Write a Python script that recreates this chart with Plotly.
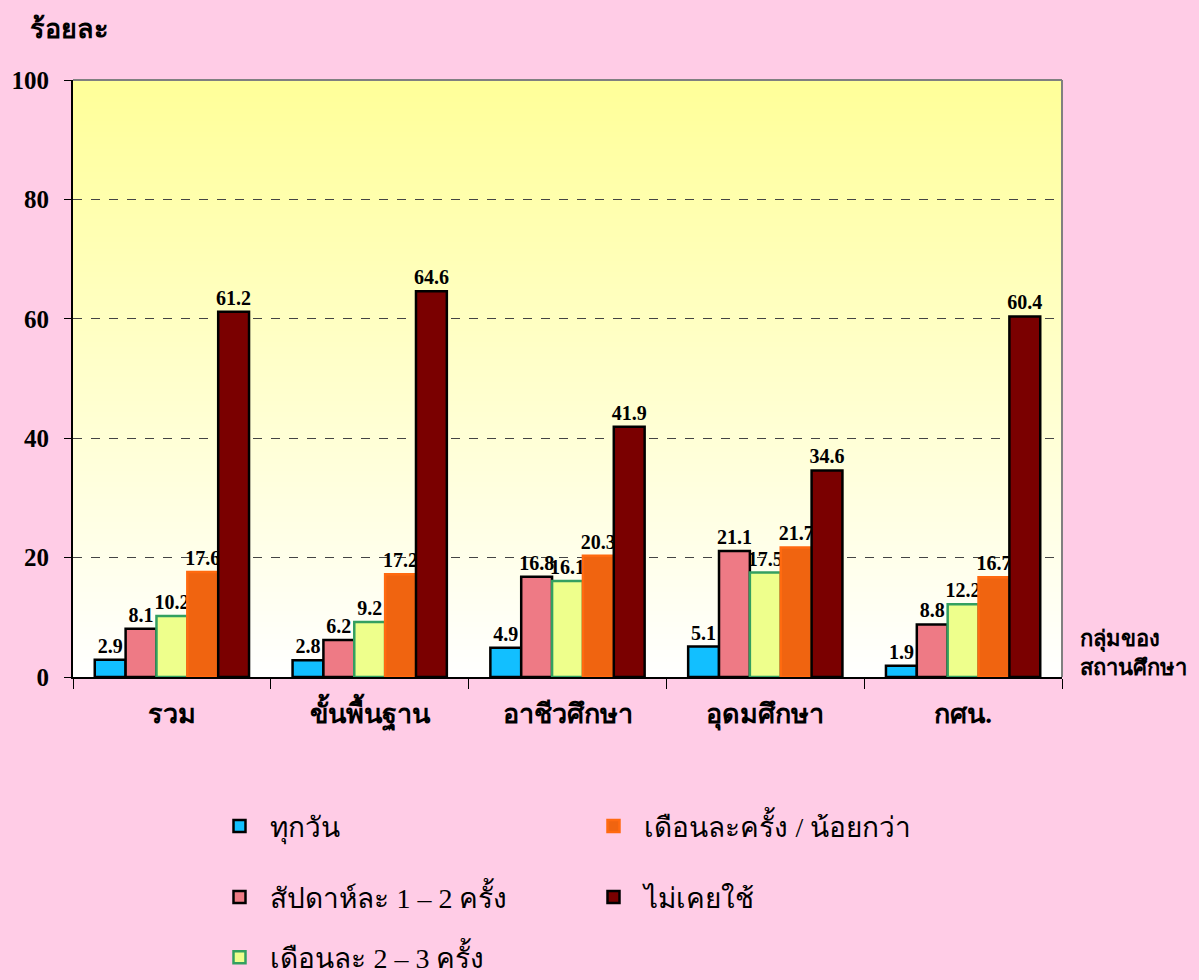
import base64, struct, zlib
import plotly.graph_objects as go

categories = ["รวม", "ขั้นพื้นฐาน", "อาชีวศึกษา", "อุดมศึกษา", "กศน."]
series_names = ["ทุกวัน", "สัปดาห์ละ 1 – 2 ครั้ง", "เดือนละ 2 – 3 ครั้ง",
                "เดือนละครั้ง / น้อยกว่า", "ไม่เคยใช้"]
daily = [2.9, 2.8, 4.9, 5.1, 1.9]
weekly = [8.1, 6.2, 16.8, 21.1, 8.8]
monthly_2_3 = [10.2, 9.2, 16.1, 17.5, 12.2]
monthly_once = [17.6, 17.2, 20.3, 21.7, 16.7]
never = [61.2, 64.6, 41.9, 34.6, 60.4]
y_ticks = [0, 20, 40, 60, 80, 100]

values = [daily, weekly, monthly_2_3, monthly_once, never]
fills = ["#12BFFF", "#EE7A85", "#EEFF8C", "#F06410", "#7A0000"]
edges = ["#000000", "#000000", "#33A060", "#FF6A10", "#000000"]
legend_ids = ["legend", "legend2", "legend3", "legend", "legend2"]
ranks = [1, 1, 1, 2, 2]


def gradient_png(top, bottom, h=256):
    raw = b""
    for i in range(h):
        t = i / (h - 1)
        px = bytes(int(round(top[k] + (bottom[k] - top[k]) * t)) for k in range(3))
        raw += b"\x00" + px
    def chunk(tag, data):
        c = tag + data
        return struct.pack(">I", len(data)) + c + struct.pack(">I", zlib.crc32(c) & 0xffffffff)
    png = b"\x89PNG\r\n\x1a\n"
    png += chunk(b"IHDR", struct.pack(">IIBBBBB", 1, h, 8, 2, 0, 0, 0))
    png += chunk(b"IDAT", zlib.compress(raw))
    png += chunk(b"IEND", b"")
    return "data:image/png;base64," + base64.b64encode(png).decode()


SERIF = "Liberation Serif, Times New Roman, serif"

fig = go.Figure()
for name, vals, fc, ec, lg, rk in zip(series_names, values, fills, edges, legend_ids, ranks):
    fig.add_trace(go.Bar(
        x=categories, y=vals, name=name,
        marker=dict(color=fc, line=dict(color=ec, width=2.5)),
        text=[f"{v:.1f}" for v in vals], textposition="outside", constraintext="none",
        textfont=dict(family=SERIF, size=20, color="black", weight="bold"),
        cliponaxis=False, legend=lg, legendrank=rk,
    ))

legend_common = dict(orientation="h", xanchor="left", yanchor="middle",
                     bgcolor="rgba(0,0,0,0)", entrywidth=307, entrywidthmode="pixels",
                     itemwidth=52,
                     font=dict(family=SERIF, size=28, color="black"), itemclick=False)

fig.update_layout(
    width=1199, height=980,
    paper_bgcolor="#FFCCE6", plot_bgcolor="rgba(0,0,0,0)",
    margin=dict(l=73, r=137, t=80, b=303, autoexpand=False),
    barmode="group", bargap=0.22, bargroupgap=0,
    showlegend=True,
    legend=dict(x=0.137, y=-0.25, **legend_common),
    legend2=dict(x=0.137, y=-0.369, **legend_common),
    legend3=dict(x=0.137, y=-0.47, **legend_common),
    xaxis=dict(showline=True, linecolor="black", linewidth=1.5, ticks="outside",
               tickson="boundaries", ticklen=10, tickcolor="black", tickwidth=1,
               ticklabelstandoff=12,
               tickfont=dict(family=SERIF, size=27, color="black", weight="bold"),
               showgrid=False, automargin=False),
    yaxis=dict(range=[0, 100], tickvals=y_ticks, showline=True, linecolor="black",
               linewidth=2, ticks="outside", ticklen=7, tickcolor="black",
               ticklabelstandoff=10,
               tickfont=dict(family=SERIF, size=25, color="black", weight="bold"),
               showgrid=True, gridcolor="#444444", griddash="dash", gridwidth=1,
               zeroline=False, automargin=False),
    images=[dict(source=gradient_png((255, 255, 153), (255, 255, 255)),
                 xref="paper", yref="paper", x=0, y=1, sizex=1, sizey=1,
                 sizing="stretch", layer="below", xanchor="left", yanchor="top")],
    shapes=[
        dict(type="line", xref="paper", yref="paper", x0=0, x1=1, y0=1, y1=1,
             line=dict(color="#808080", width=2)),
        dict(type="line", xref="paper", yref="paper", x0=1, x1=1, y0=0, y1=1,
             line=dict(color="#808080", width=2)),
    ],
    annotations=[
        dict(text="<b>ร้อยละ</b>", xref="paper", yref="paper", x=-0.045, y=1.085,
             xanchor="left", yanchor="middle", showarrow=False,
             font=dict(family=SERIF, size=27, color="black")),
        dict(text="<b>กลุ่มของ<br>สถานศึกษา</b>", xref="paper", yref="paper",
             x=1.016, y=0.04, xanchor="left", yanchor="middle", showarrow=False,
             align="left", font=dict(family=SERIF, size=22, color="black")),
    ],
)

fig.write_html("out.html")
